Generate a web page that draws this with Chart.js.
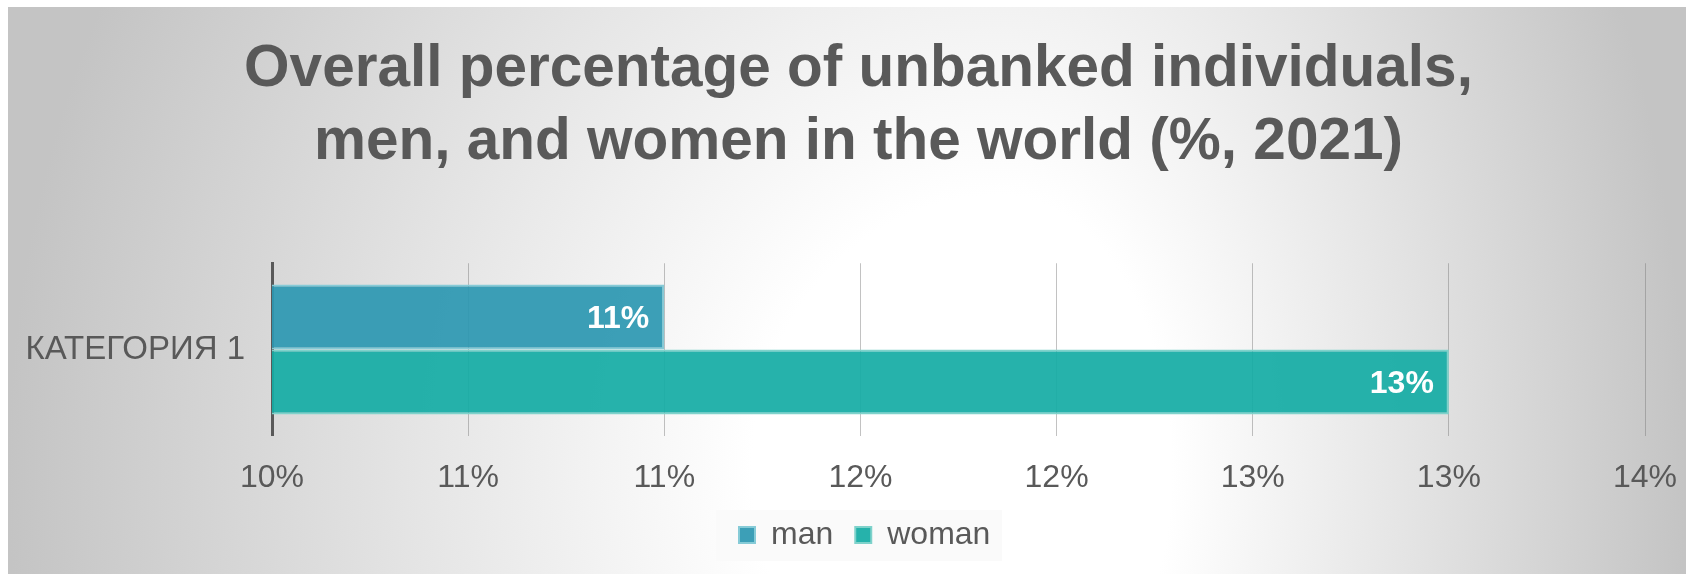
<!DOCTYPE html>
<html>
<head>
<meta charset="utf-8">
<script src="https://cdn.jsdelivr.net/npm/chart.js@4.4.1/dist/chart.umd.min.js"></script>
<style>
  html, body { margin: 0; padding: 0; background: #ffffff; }
  body { padding: 7px 0 0 8px; }
  #wrap { width: 1678px; height: 567px; position: relative; }
</style>
</head>
<body>
<div id="wrap"><canvas id="chart"></canvas></div>
<script>
// Unbanked adults, 2021 (%)
const categories = ['КАТЕГОРИЯ 1'];
const seriesNames = ['man', 'woman'];
const manValues = [11];
const womanValues = [13];
const axisMin = 10;
const axisMax = 13.5;
const axisStep = 0.5;

const FONT = "'Liberation Sans', Arial, sans-serif";
const TEXT = '#595959';

// off-centre elliptical fade from white to grey behind the whole chart
const backdrop = {
  id: 'backdrop',
  beforeDraw(chart) {
    const { ctx, width, height } = chart;
    const cx = 992, cy = 463, ry = 1100;
    const halves = [
      { x0: 0, x1: cx, rx: cx },
      { x0: cx, x1: width, rx: width - cx }
    ];
    ctx.save();
    halves.forEach(h => {
      ctx.save();
      ctx.beginPath();
      ctx.rect(h.x0, 0, h.x1 - h.x0, height);
      ctx.clip();
      ctx.translate(cx, cy);
      ctx.scale(h.rx, ry);
      const g = ctx.createRadialGradient(0, 0, 0, 0, 0, 1);
      g.addColorStop(0, '#ffffff');
      g.addColorStop(0.25, '#ffffff');
      g.addColorStop(0.6, '#e4e4e4');
      g.addColorStop(1, '#c4c4c4');
      ctx.fillStyle = g;
      ctx.fillRect(-2, -2, 4, 4);
      ctx.restore();
    });
    ctx.restore();
  }
};

// places the title and legend rows, and paints the legend's pale panel
const placement = {
  id: 'placement',
  afterUpdate(chart) {
    const tb = chart.titleBlock;
    if (tb) { tb.left += 32; tb.right += 32; }
    const lg = chart.legend;
    if (!lg || !lg.legendHitBoxes || !lg.legendHitBoxes.length) return;
    const dx = 731 - lg.legendHitBoxes[0].left;
    lg.left += dx;
    lg.right += dx;
    lg.legendHitBoxes.forEach(b => { b.left += dx; });
  },
  beforeDraw(chart) {
    const boxes = chart.legend && chart.legend.legendHitBoxes;
    if (!boxes || !boxes.length) return;
    const first = boxes[0];
    const cy = first.top + first.height / 2;
    const ctx = chart.ctx;
    ctx.save();
    ctx.fillStyle = 'rgba(250,250,250,0.9)';
    ctx.fillRect(708, cy - 25, 286, 51);
    ctx.restore();
  }
};

// value labels inside the bar ends
const barLabels = {
  id: 'barLabels',
  afterDatasetsDraw(chart) {
    const ctx = chart.ctx;
    ctx.save();
    ctx.font = 'bold 32px ' + FONT;
    ctx.fillStyle = '#ffffff';
    ctx.textAlign = 'right';
    ctx.textBaseline = 'middle';
    chart.data.datasets.forEach((ds, i) => {
      chart.getDatasetMeta(i).data.forEach((bar, j) => {
        ctx.fillText(Math.round(ds.data[j]) + '%', bar.x - 15, bar.y + 2);
      });
    });
    ctx.restore();
  }
};

new Chart(document.getElementById('chart'), {
  type: 'bar',
  data: {
    labels: categories,
    datasets: [
      {
        label: seriesNames[0],
        data: manValues,
        backgroundColor: 'rgba(45,152,178,0.93)',
        borderColor: '#86cbd7',
        borderWidth: 2,
        borderSkipped: 'left'
      },
      {
        label: seriesNames[1],
        data: womanValues,
        backgroundColor: 'rgba(22,172,165,0.93)',
        borderColor: '#7fd2cb',
        borderWidth: 2,
        borderSkipped: 'left'
      }
    ]
  },
  options: {
    indexAxis: 'y',
    responsive: true,
    maintainAspectRatio: false,
    animation: false,
    categoryPercentage: 0.754,
    barPercentage: 1,
    layout: { padding: { left: 0, right: 41, top: 0, bottom: 13 } },
    scales: {
      x: {
        min: axisMin,
        max: axisMax,
        ticks: {
          stepSize: axisStep,
          padding: 0,
          color: TEXT,
          font: { family: FONT, size: 32 },
          maxRotation: 0,
          callback: v => Math.round(v) + '%'
        },
        grid: {
          drawTicks: true,
          tickLength: 23,
          tickColor: 'rgba(0,0,0,0)',
          color: 'rgba(120,120,120,0.45)',
          lineWidth: 1
        },
        border: { display: false }
      },
      y: {
        ticks: {
          padding: 27,
          color: TEXT,
          font: { family: FONT, size: 33 }
        },
        grid: { display: false, drawTicks: false },
        border: { display: true, color: '#595959', width: 3 },
        afterFit(scale) { scale.width = 264; }
      }
    },
    plugins: {
      title: {
        display: true,
        text: ['Overall percentage of unbanked individuals,', 'men, and women in the world (%, 2021)'],
        color: TEXT,
        font: { family: FONT, size: 58.5, weight: 'bold', lineHeight: 1.25 },
        padding: { top: 26, bottom: 84 }
      },
      legend: {
        position: 'bottom',
        labels: {
          color: TEXT,
          font: { family: FONT, size: 32 },
          boxWidth: 16,
          boxHeight: 16,
          padding: 22
        }
      },
      tooltip: { enabled: false }
    }
  },
  plugins: [backdrop, placement, barLabels]
});
</script>
</body>
</html>
